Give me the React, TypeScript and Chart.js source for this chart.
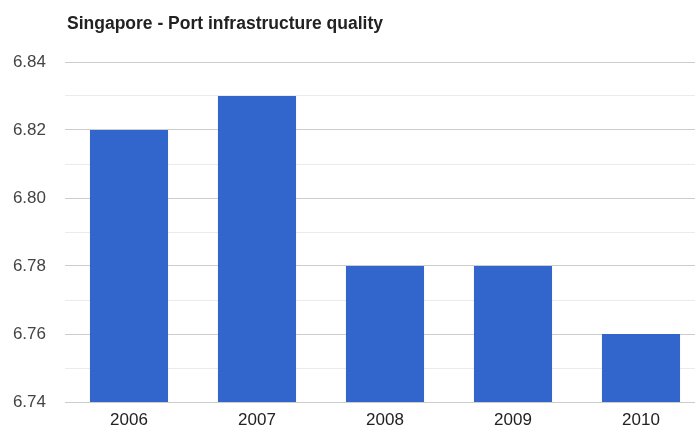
import React, { useEffect, useRef } from "react";
import { Chart, registerables } from "chart.js";

Chart.register(...registerables);

const TITLE = "Singapore - Port infrastructure quality";
const categories = ["2006", "2007", "2008", "2009", "2010"];
const values = [6.82, 6.83, 6.78, 6.78, 6.76];
const yMin = 6.74;
const yMax = 6.84;
const yStep = 0.01;

const FONT = "Arial, 'Liberation Sans', sans-serif";

const titlePlugin = {
  id: "leftTitle",
  afterDraw(chart: any) {
    const ctx = chart.ctx;
    ctx.save();
    ctx.font = "bold 17.5px Arial, 'Liberation Sans', sans-serif";
    ctx.fillStyle = "#222222";
    ctx.textAlign = "left";
    ctx.textBaseline = "alphabetic";
    ctx.fillText(TITLE, 67, 29);
    ctx.restore();
  },
};

export default function App() {
  const ref = useRef<HTMLCanvasElement>(null);
  useEffect(() => {
    document.body.style.margin = "0";
    document.body.style.overflow = "hidden";
    const chart = new Chart(ref.current!, {
      type: "bar",
      data: {
        labels: categories,
        datasets: [
          {
            data: values,
            backgroundColor: "#3366cc",
            borderWidth: 0,
            barPercentage: 0.61,
            categoryPercentage: 1,
          },
        ],
      },
      plugins: [titlePlugin],
      options: {
        animation: false,
        responsive: false,
        layout: { padding: { top: 62, right: 0, left: 0, bottom: 0 } },
        plugins: { legend: { display: false }, tooltip: { enabled: false } },
        scales: {
          x: {
            grid: { display: false, drawTicks: false },
            border: { display: false },
            ticks: {
              color: "#222222",
              font: { size: 17, family: FONT },
              padding: 8,
              maxRotation: 0,
            },
            afterFit(scale: any) {
              scale.height = 26;
            },
          },
          y: {
            min: yMin,
            max: yMax,
            grid: {
              drawTicks: true,
              tickLength: 19,
              tickColor: "rgba(0,0,0,0)",
              color: (c: any) => {
                const v = c.tick ? c.tick.value : 0;
                const k = Math.round(v * 100);
                return k % 2 === 0 ? "#cccccc" : "#ebebeb";
              },
              lineWidth: 1,
            },
            border: { display: false },
            ticks: {
              stepSize: yStep,
              color: "#444444",
              font: { size: 17, family: FONT },
              padding: 0,
              callback: (v: any) => {
                const k = Math.round(Number(v) * 100);
                return k % 2 === 0 ? Number(v).toFixed(2) : "";
              },
            },
            afterFit(scale: any) {
              scale.width = 65;
            },
          },
        },
      },
    });
    return () => chart.destroy();
  }, []);
  return (
    <div style={{ position: "absolute", left: 0, top: 0, width: 695, height: 428, overflow: "hidden", background: "#fff" }}>
      <canvas ref={ref} width={705} height={428} style={{ display: "block" }} />
    </div>
  );
}
